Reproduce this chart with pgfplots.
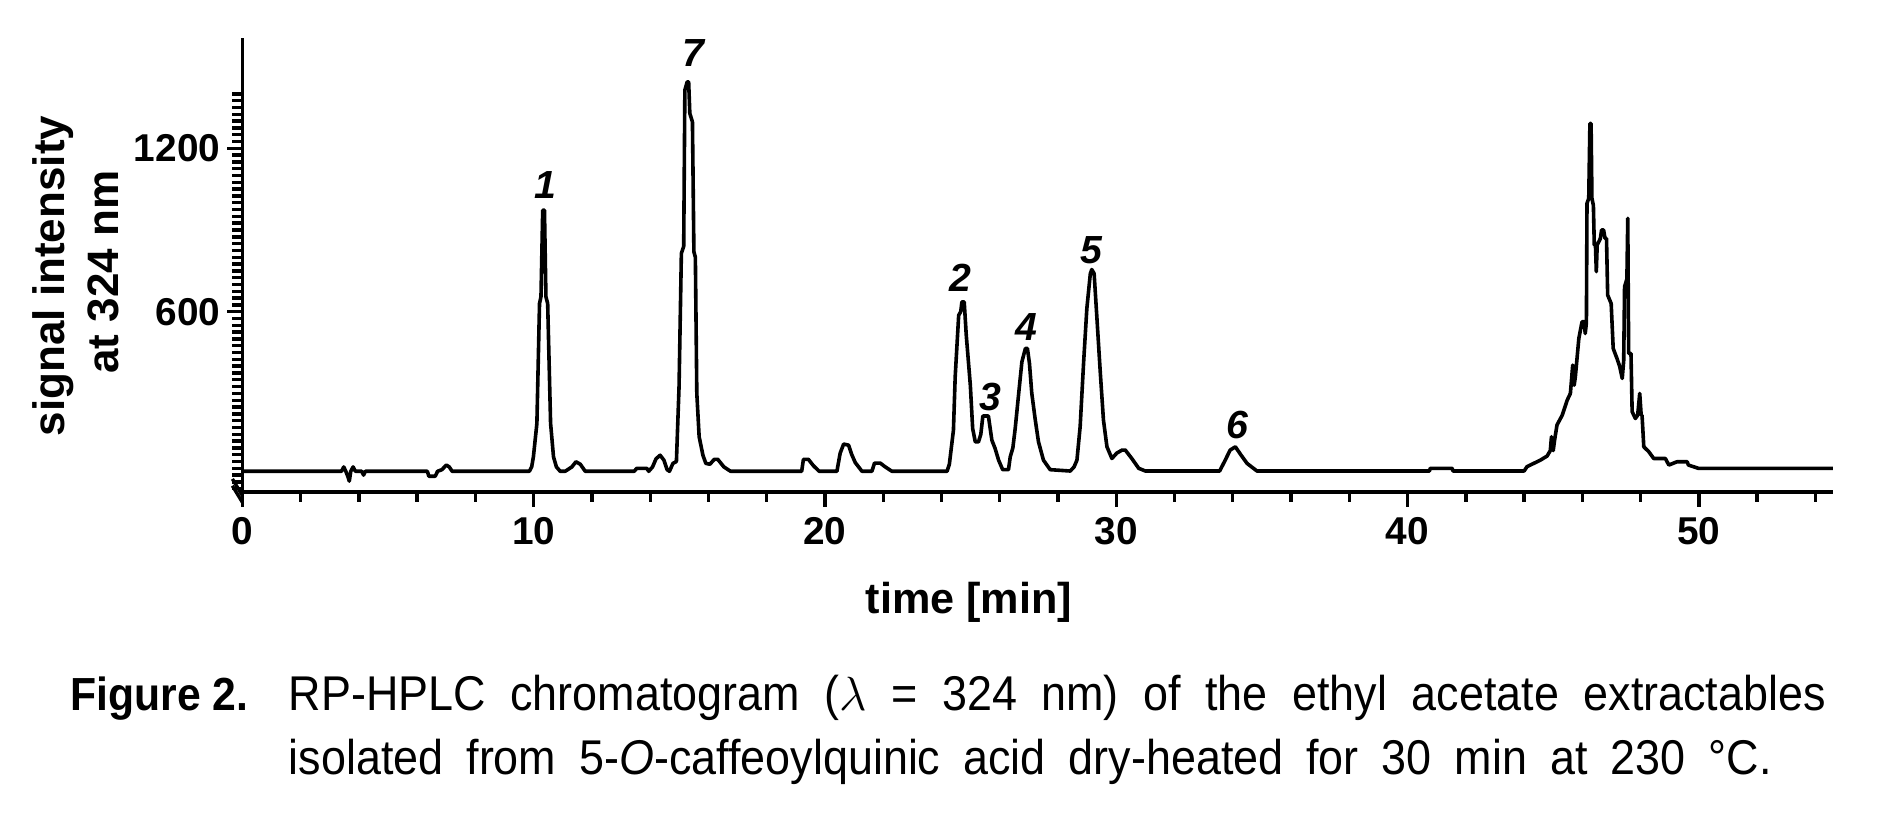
\documentclass[border=0pt]{standalone}
\usepackage{fontspec}
\setmainfont{Liberation Sans}
\newfontfamily\capfont{Liberation Sans}[FakeStretch=0.92]
\usepackage{pgfplots}
\pgfplotsset{compat=1.18}
\begin{document}
\begin{tikzpicture}[x=1pt,y=1pt]
\path[use as bounding box] (0,0) rectangle (470,-203);
\begin{axis}[
  at={(60.6pt,-122.93pt)}, anchor=south west,
  scale only axis, width=397.6pt, height=113.43pt,
  xmin=0, xmax=54.6, ymin=-61, ymax=1605,
  axis lines=left,
  axis line style={-, line width=0.95pt},
  clip=false,
  xtick={0,10,...,50},
  minor xtick={2,4,...,54},
  ytick={600,1200},
  minor ytick={-50,-25,...,1400},
  tick align=outside,
  major tick length=3.8pt,
  minor tick length=2.5pt,
  every tick/.style={line width=0.85pt, black},
  /pgf/number format/assume math mode=true,
  /pgf/number format/1000 sep={},
  ticklabel style={font=\bfseries\fontsize{9.7}{11}\selectfont},
  xticklabel style={yshift=1pt},
  yticklabel style={xshift=1.8pt},
]
\addplot[black, line width=0.9pt, line join=round] coordinates {
(0,14) (3.40,14) (3.48,30) (3.55,14) (3.62,-5) (3.67,-22) (3.72,14) (3.80,30) (3.88,14)
(4.10,14) (4.16,0) (4.22,14) (6.35,14) (6.40,-4) (6.62,-4) (6.70,14) (6.85,20) (7.00,37)
(7.10,30) (7.20,14) (9.85,14) (9.93,30) (9.99,67) (10.11,190) (10.20,630) (10.25,655)
(10.31,973) (10.37,973) (10.42,655) (10.48,630) (10.58,190) (10.68,67) (10.78,30) (10.91,14)
(11.08,14) (11.31,30) (11.45,49) (11.60,40) (11.77,14) (13.45,14) (13.54,25) (13.88,25)
(13.95,14) (14.08,30) (14.20,60) (14.34,73) (14.47,55) (14.58,20) (14.66,14) (14.78,43)
(14.90,50) (14.99,324) (15.07,814) (15.15,840) (15.19,1414) (15.27,1444) (15.32,1444)
(15.36,1328) (15.45,1297) (15.50,820) (15.55,800) (15.60,300) (15.68,141) (15.81,73)
(15.91,43) (16.05,40) (16.20,58) (16.32,58) (16.53,30) (16.76,14) (19.20,14) (19.26,58)
(19.43,58) (19.60,35) (19.80,14) (20.41,14) (20.52,80) (20.64,114) (20.81,110) (20.92,75)
(21.04,46) (21.27,14) (21.61,14) (21.70,44) (21.90,44) (22.07,30) (22.30,14) (24.19,14)
(24.27,40) (24.41,165) (24.47,361) (24.59,587) (24.66,600) (24.70,636) (24.78,636)
(24.85,514) (24.99,330) (25.07,171) (25.16,122) (25.27,122) (25.35,150) (25.42,217)
(25.61,217) (25.73,128) (25.84,98) (25.96,55) (26.10,20) (26.30,20) (26.36,67) (26.45,100)
(26.53,171) (26.65,300) (26.76,416) (26.88,465) (26.95,465) (27.02,410) (27.10,300)
(27.22,202) (27.33,122) (27.50,55) (27.73,20) (28.42,15) (28.55,30) (28.65,55) (28.76,178)
(28.88,416) (28.99,612) (29.11,740) (29.16,755) (29.24,740) (29.34,569) (29.45,379)
(29.56,202) (29.68,104) (29.85,61) (30.02,81) (30.20,92) (30.31,92) (30.54,60) (30.77,25)
(31.00,15) (33.55,15) (33.74,55) (33.91,92) (34.09,104) (34.26,77) (34.49,43) (34.83,15)
(40.75,15) (40.78,25) (41.53,25) (41.56,15) (44.00,15) (44.10,31) (44.33,43) (44.56,55)
(44.79,70) (44.90,90) (44.94,141) (45.00,90) (45.05,130) (45.13,184) (45.31,220) (45.48,275)
(45.59,300) (45.67,404) (45.72,330) (45.76,361) (45.88,502) (45.99,563) (46.06,563)
(46.10,520) (46.14,560) (46.16,998) (46.22,1016) (46.26,1291) (46.30,1291) (46.33,1016)
(46.38,990) (46.41,845) (46.45,845) (46.48,747) (46.51,845) (46.62,869) (46.66,900)
(46.73,900) (46.78,869) (46.83,869) (46.87,661) (46.99,630) (47.06,465) (47.19,428)
(47.28,400) (47.37,355) (47.42,420) (47.45,692) (47.53,720) (47.56,943) (47.59,447)
(47.67,447) (47.71,233) (47.82,208) (47.90,220) (47.97,300) (48.02,220) (48.05,220)
(48.11,104) (48.28,86) (48.45,61) (48.85,61) (48.97,37) (49.25,49) (49.60,49) (49.64,37)
(49.98,25) (54.60,25)
};
\draw[line width=0.95pt] (axis cs:0,-61) -- (axis cs:0,-118);
\draw[line width=0.85pt] (axis cs:0,-75) -- ++(-2.5pt,0);
\draw[line width=0.85pt] (axis cs:0,-100) -- ++(-2.5pt,0);
\begin{scope}[every node/.style={font=\bfseries\itshape\fontsize{9.8}{11}\selectfont, inner sep=0pt}]
\node at (axis cs:10.39,1065) {1};
\node at (axis cs:15.47,1550) {7};
\node at (axis cs:24.64,723) {2};
\node at (axis cs:25.67,286) {3};
\node at (axis cs:26.93,544) {4};
\node at (axis cs:29.16,826) {5};
\node at (axis cs:34.15,183) {6};
\end{scope}
\end{axis}
\node[anchor=base, inner sep=0pt, font=\bfseries\fontsize{10.8}{12}\selectfont] at (242.25,-153.25) {time [min]};
\node[anchor=base, rotate=90, inner sep=0pt, font=\bfseries\fontsize{11}{12}\selectfont] at (16.2,-69) {signal intensity};
\node[anchor=base, rotate=90, inner sep=0pt, font=\bfseries\fontsize{11}{12}\selectfont] at (29.6,-68) {at 324 nm};
\node[anchor=base west, inner sep=0pt, font=\capfont\bfseries\fontsize{11.6}{13}\selectfont] at (17.4,-177.7) {Figure 2.};
\node[anchor=base west, inner sep=0pt, font=\capfont\fontsize{12.2}{13}\selectfont] at (72,-177.7) {\makebox[384.25pt][s]{RP-HPLC chromatogram ($\lambda$ = 324 nm) of the ethyl acetate extractables}};
\node[anchor=base west, inner sep=0pt, font=\capfont\fontsize{12.2}{13}\selectfont] at (72,-193.5) {\makebox[370.75pt][s]{isolated from 5-\textit{O}-caffeoylquinic acid dry-heated for 30 min at 230 °C.}};
\end{tikzpicture}
\end{document}
